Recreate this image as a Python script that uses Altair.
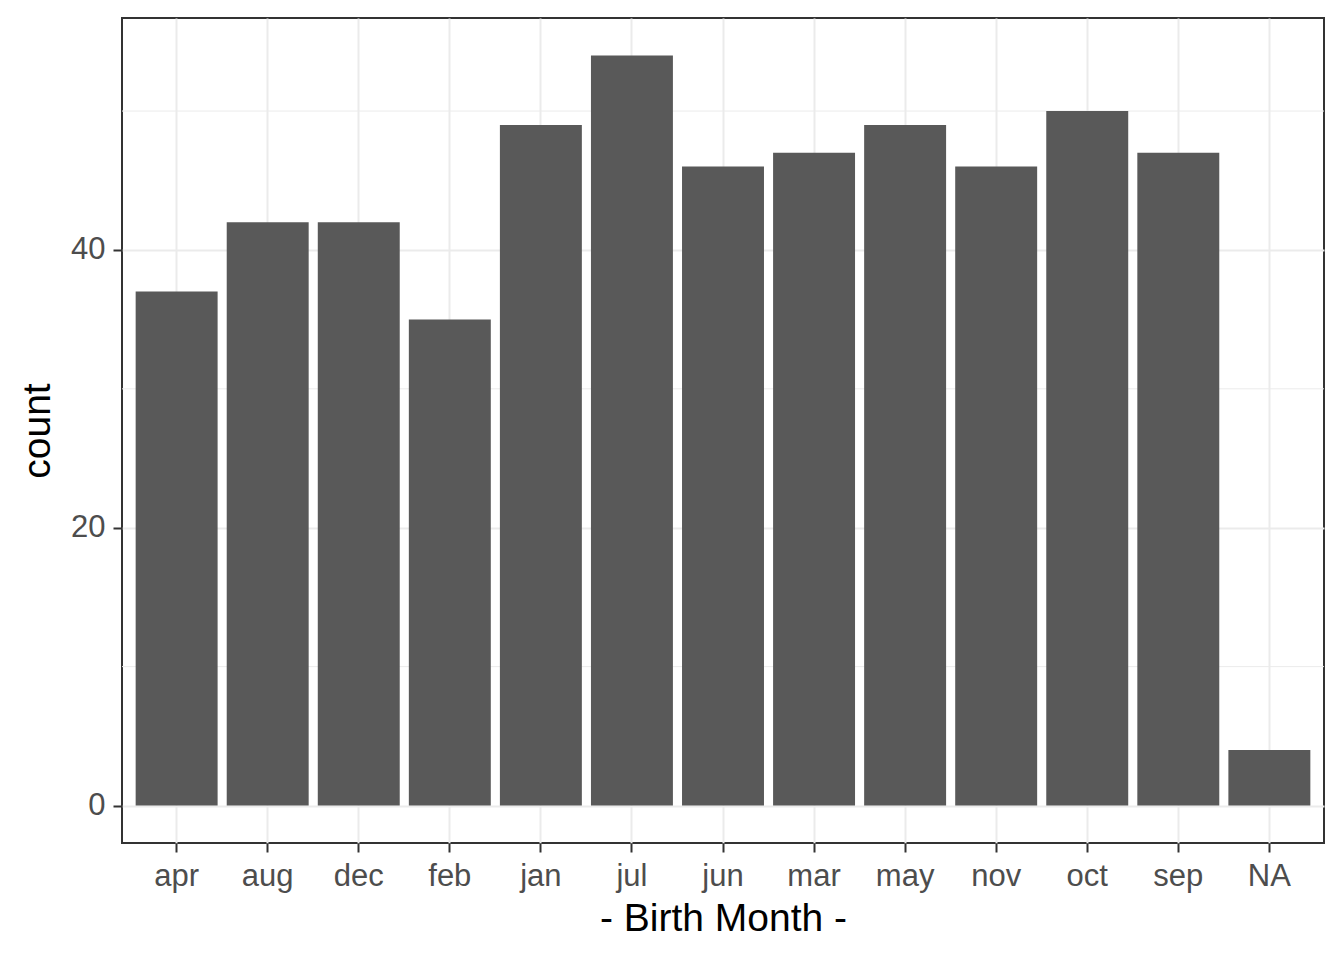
import altair as alt
import pandas as pd

months = ["apr", "aug", "dec", "feb", "jan", "jul", "jun", "mar", "may", "nov", "oct", "sep", "NA"]
counts = [37, 42, 42, 35, 49, 54, 46, 47, 49, 46, 50, 47, 4]
major_breaks = [0, 20, 40]
minor_breaks = [10, 30, 50]

df = pd.DataFrame({"month": months, "count": counts})
minor_df = pd.DataFrame({"v": minor_breaks})

FONT = "Liberation Sans"
y_scale = alt.Scale(domain=[-2.7, 56.7], nice=False, zero=False)

y_axis = alt.Axis(
    title="count",
    values=major_breaks,
    labelFontSize=31,
    labelColor="#4D4D4D",
    labelFont=FONT,
    labelPadding=8,
    tickSize=9,
    tickWidth=2,
    tickColor="#333333",
    domain=False,
    grid=True,
    gridColor="#EBEBEB",
    gridWidth=2,
    titleFontSize=39,
    titleFont=FONT,
    titleFontWeight="normal",
    titleColor="#000000",
    titlePadding=13,
)

minor = alt.Chart(minor_df).mark_rule(color="#EBEBEB", strokeWidth=1).encode(
    y=alt.Y("v:Q", scale=y_scale, axis=y_axis)
)

bars = alt.Chart(df).mark_bar(color="#595959").encode(
    x=alt.X(
        "month:N",
        sort=months,
        scale=alt.Scale(paddingInner=0.1, paddingOuter=0.15),
        axis=alt.Axis(
            title="- Birth Month -",
            labelAngle=0,
            labelFontSize=31,
            labelColor="#4D4D4D",
            labelFont=FONT,
            labelPadding=9,
            tickSize=9,
            tickWidth=2,
            tickColor="#333333",
            domain=False,
            grid=True,
            gridColor="#EBEBEB",
            gridWidth=2,
            titleFontSize=39,
            titleFont=FONT,
            titleFontWeight="normal",
            titleColor="#000000",
            titlePadding=8,
        ),
    ),
    y=alt.Y("count:Q", scale=y_scale, axis=y_axis),
)

chart = (
    alt.layer(minor, bars)
    .properties(
        width=1202,
        height=825,
        autosize=alt.AutoSizeParams(type="none"),
        padding={"left": 114, "top": 10, "right": 12, "bottom": 109},
        background="white",
    )
    .configure_view(stroke="#333333", strokeWidth=2)
)

chart.save("out.html", embed_options={"renderer": "svg", "actions": False})
